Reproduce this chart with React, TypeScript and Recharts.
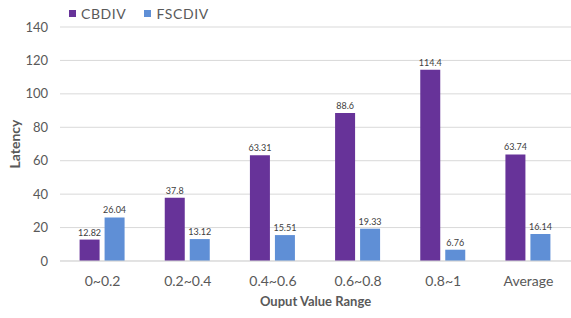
import { Bar, BarChart, CartesianGrid, LabelList, Legend, XAxis, YAxis } from "recharts";

const categories = ["0~0.2", "0.2~0.4", "0.4~0.6", "0.6~0.8", "0.8~1", "Average"];
const cbdiv = [12.82, 37.8, 63.31, 88.6, 114.4, 63.74];
const fscdiv = [26.04, 13.12, 15.51, 19.33, 6.76, 16.14];
const yTicks = [0, 20, 40, 60, 80, 100, 120, 140];

const PURPLE = "#673399";
const BLUE = "#5f8fd6";
const TEXT = "#595959";
const FONT = "Lato, 'Open Sans', sans-serif";

const rows = categories.map((name, i) => ({ name, CBDIV: cbdiv[i], FSCDIV: fscdiv[i] }));

function LegendContent() {
  const items = [
    { label: "CBDIV", color: PURPLE },
    { label: "FSCDIV", color: BLUE },
  ];
  return (
    <div style={{ display: "flex", gap: 18, fontFamily: FONT, fontSize: 14, letterSpacing: 0.6, color: TEXT }}>
      {items.map((it) => (
        <div key={it.label} style={{ display: "flex", alignItems: "center", gap: 5 }}>
          <span style={{ display: "inline-block", width: 7, height: 7, background: it.color }} />
          <span>{it.label}</span>
        </div>
      ))}
    </div>
  );
}

export default function App() {
  return (
    <div style={{ position: "fixed", left: 0, top: 0, width: 571, height: 318, background: "#fff" }}>
      <BarChart
        width={571}
        height={318}
        data={rows}
        margin={{ top: 10, right: 0, left: 0, bottom: 0 }}
        barCategoryGap="23%"
        barGap={5}
      >
        <CartesianGrid vertical={false} stroke="#d9d9d9" />
        <XAxis
          dataKey="name"
          height={57}
          axisLine={{ stroke: "#d9d9d9" }}
          tickLine={false}
          tickMargin={9}
          tick={{ fill: TEXT, fontSize: 14, fontFamily: FONT }}
          label={{
            value: "Ouput Value Range",
            position: "insideBottom",
            offset: 12,
            fill: TEXT,
            fontSize: 13,
            fontWeight: 700,
            fontFamily: FONT,
          }}
        />
        <YAxis
          width={60}
          domain={[0, 140]}
          ticks={yTicks}
          axisLine={false}
          tickLine={false}
          tickMargin={6}
          tick={{ fill: TEXT, fontSize: 13, fontFamily: FONT }}
          label={{
            value: "Latency",
            angle: -90,
            position: "insideLeft",
            offset: 15,
            fill: TEXT,
            fontSize: 14,
            fontWeight: 700,
            fontFamily: FONT,
            style: { textAnchor: "middle" },
          }}
        />
        <Legend
          verticalAlign="top"
          align="left"
          content={<LegendContent />}
          wrapperStyle={{ top: 5, left: 69, width: "auto" }}
        />
        <Bar dataKey="CBDIV" fill={PURPLE} isAnimationActive={false}>
          <LabelList dataKey="CBDIV" position="top" offset={4} fill="#404040" fontSize={9} fontFamily={FONT} />
        </Bar>
        <Bar dataKey="FSCDIV" fill={BLUE} isAnimationActive={false}>
          <LabelList dataKey="FSCDIV" position="top" offset={4} fill="#404040" fontSize={9} fontFamily={FONT} />
        </Bar>
      </BarChart>
    </div>
  );
}
